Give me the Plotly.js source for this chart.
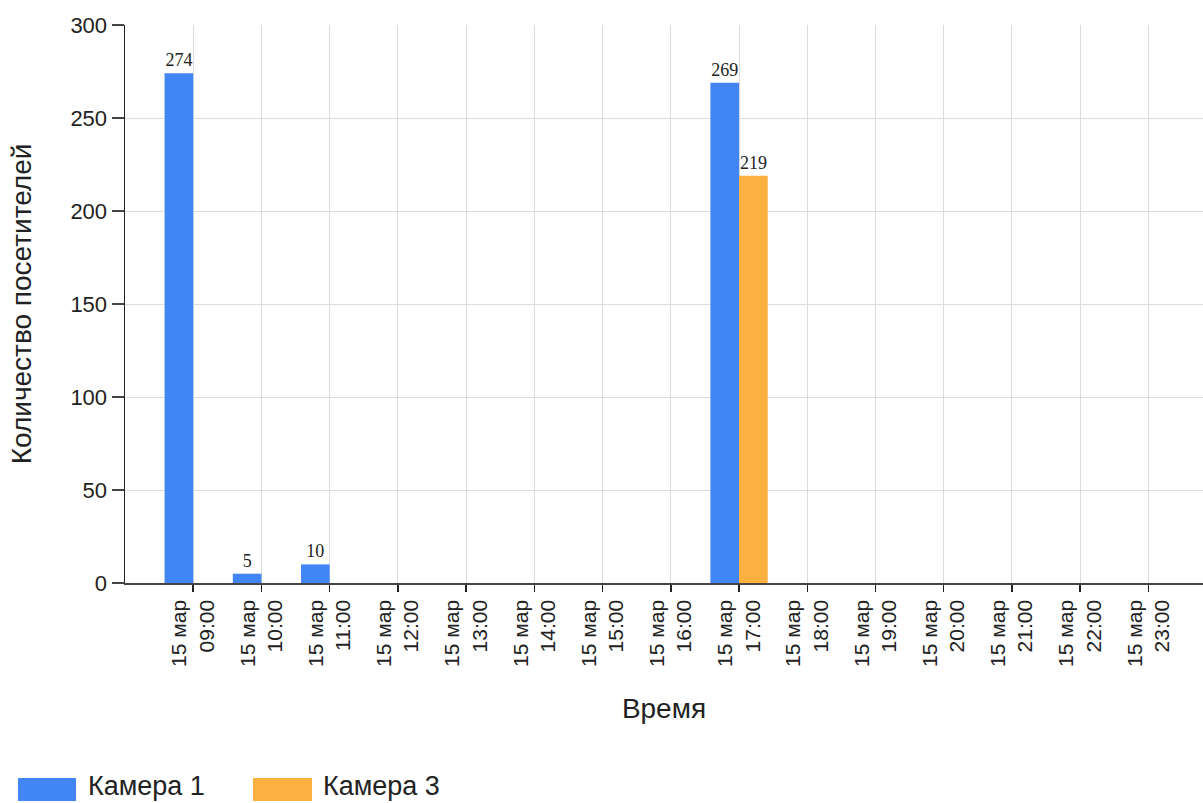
<!DOCTYPE html>
<html>
<head>
<meta charset="utf-8">
<script src="https://cdn.plot.ly/plotly-3.0.1.min.js"></script>
<style>html,body{margin:0;padding:0;background:#fff;}#chart{width:1203px;height:803px;}</style>
</head>
<body>
<div id="chart"></div>
<script>
// ---- data ----
const dayLabel = "15 мар";
const hours = ["09:00","10:00","11:00","12:00","13:00","14:00","15:00","16:00","17:00","18:00","19:00","20:00","21:00","22:00","23:00"];
const camera1 = [274, 5, 10, null, null, null, null, null, 269, null, null, null, null, null, null];
const camera3 = [null, null, null, null, null, null, null, null, 219, null, null, null, null, null, null];
const seriesNames = ["Камера 1", "Камера 3"];
const seriesColors = ["#4285f4", "#fbb040"];
const yTicks = [0, 50, 100, 150, 200, 250, 300];
const xTitle = "Время";
const yTitle = "Количество посетителей";

// ---- layout constants ----
const W = 1203, H = 803;
const M = {l: 125, r: 0, t: 25, b: 220};
const PW = W - M.l - M.r, PH = H - M.t - M.b;
const px2x = p => (p - M.l) / PW;
const px2y = p => (H - M.b - p) / PH;

const cats = hours.map(h => dayLabel + "<br>" + h);
const labelFont = {family: "Liberation Serif, Times New Roman, serif", size: 18, color: "#222"};

const traces = [camera1, camera3].map((vals, i) => ({
  type: "bar",
  name: seriesNames[i],
  x: cats,
  y: vals,
  marker: {color: seriesColors[i]},
  text: vals.map(v => v == null ? "" : String(v)),
  textposition: "outside",
  textfont: labelFont,
  cliponaxis: false,
  hoverinfo: "x+y+name",
  showlegend: false
}));

// custom legend (wide swatches)
const legendItems = [{sx0: 18, sx1: 76, tx: 86}, {sx0: 253, sx1: 312, tx: 321}];
const shapes = [], annotations = [];
legendItems.forEach((it, i) => {
  shapes.push({type: "rect", xref: "paper", yref: "paper",
    x0: px2x(it.sx0), x1: px2x(it.sx1), y0: px2y(801), y1: px2y(778),
    fillcolor: seriesColors[i], line: {width: 0}});
  annotations.push({xref: "paper", yref: "paper", x: px2x(it.tx), y: px2y(786),
    xanchor: "left", yanchor: "middle", showarrow: false, text: seriesNames[i],
    font: {family: "Liberation Sans, Arial, sans-serif", size: 27, color: "#222"}});
});

const layout = {
  width: W, height: H,
  margin: M,
  paper_bgcolor: "#fff", plot_bgcolor: "#fff",
  barmode: "group", bargap: 0.16, bargroupgap: 0,
  showlegend: false,
  font: {family: "Liberation Sans, Arial, sans-serif", color: "#222"},
  xaxis: {
    type: "category",
    categoryorder: "array", categoryarray: cats,
    range: [-1, 14.8],
    tickangle: -90,
    tickfont: {size: 21, color: "#222"},
    ticks: "outside", ticklen: 7, tickcolor: "#222", tickwidth: 1.5,
    showline: true, linecolor: "#444", linewidth: 1.5,
    showgrid: true, gridcolor: "#dcdcdc", gridwidth: 1,
    title: {text: xTitle, font: {size: 28, color: "#222"}, standoff: 32},
    fixedrange: true
  },
  yaxis: {
    range: [0, 300],
    tickvals: yTicks,
    tickfont: {size: 22, color: "#222"},
    ticks: "outside", ticklen: 12, tickcolor: "#444", tickwidth: 1.5,
    showline: true, linecolor: "#222", linewidth: 1.5,
    showgrid: true, gridcolor: "#dcdcdc", gridwidth: 1,
    zeroline: false,
    title: {text: yTitle, font: {size: 28, color: "#222"}, standoff: 30},
    fixedrange: true
  },
  shapes: shapes,
  annotations: annotations
};

Plotly.newPlot("chart", traces, layout, {displayModeBar: false, staticPlot: true});
</script>
</body>
</html>
